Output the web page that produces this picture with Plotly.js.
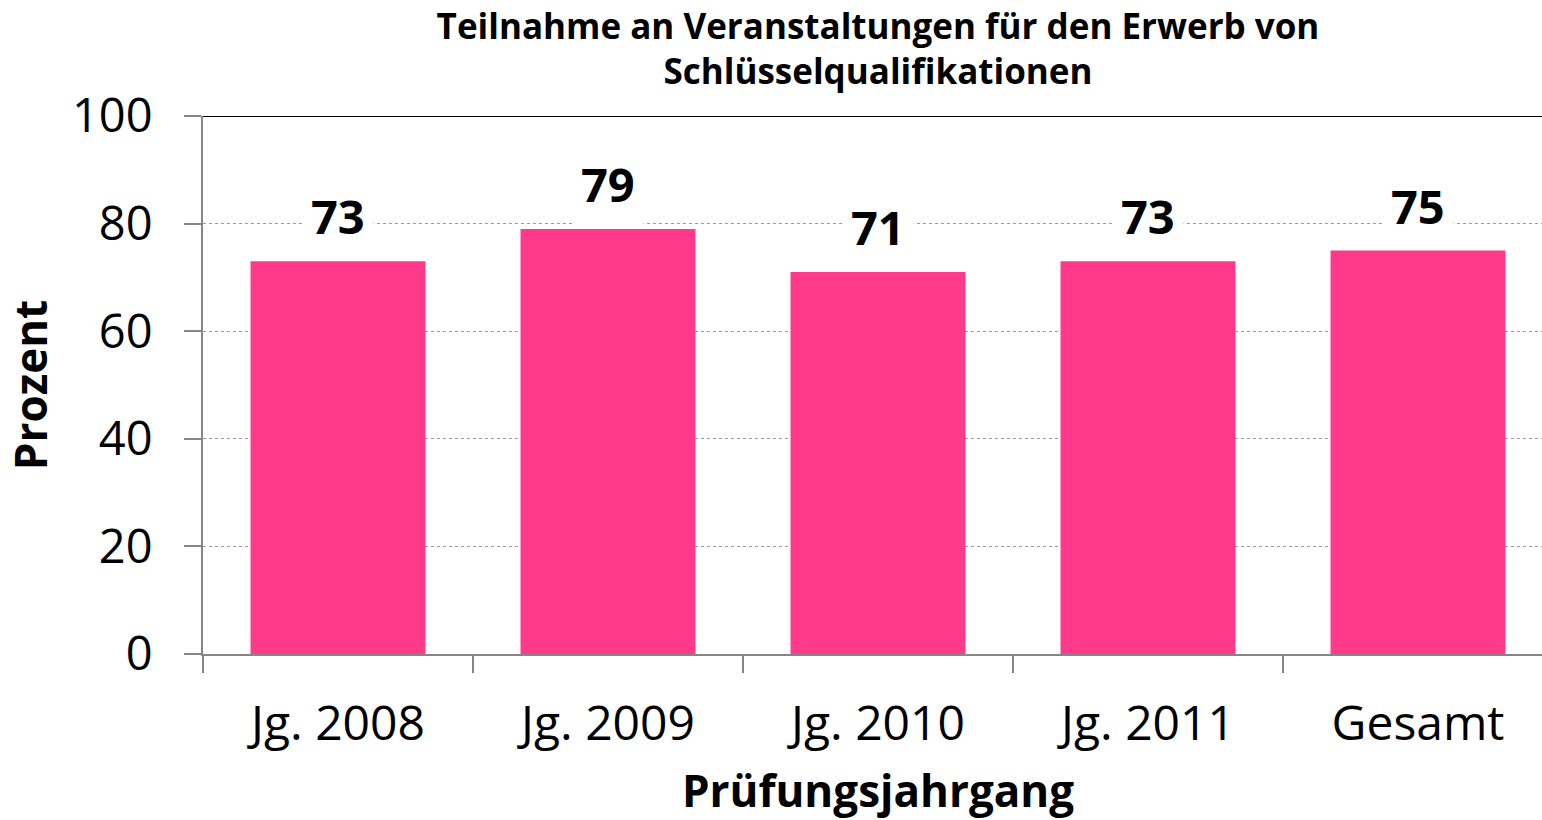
<!DOCTYPE html>
<html>
<head>
<meta charset="utf-8">
<script src="https://cdn.plot.ly/plotly-3.0.1.min.js"></script>
<style>
html, body { margin: 0; padding: 0; overflow: hidden; background: #fff; }
#chart { width: 1560px; height: 820px; }
</style>
</head>
<body>
<div id="chart"></div>
<script>
const categories = ["Jg. 2008", "Jg. 2009", "Jg. 2010", "Jg. 2011", "Gesamt"];
const values = [73, 79, 71, 73, 75];
const yTicks = [0, 20, 40, 60, 80, 100];

const FONT = "Open Sans, Noto Sans, sans-serif";
const BAR_COLOR = "#FF3A8A";

const trace = {
  type: "bar",
  x: categories,
  y: values,
  marker: { color: BAR_COLOR, line: { width: 0 } },
  hoverinfo: "x+y"
};

const annotations = categories.map((c, i) => ({
  x: c,
  y: values[i],
  xref: "x",
  yref: "y",
  text: "<b>" + values[i] + "</b>",
  showarrow: false,
  yanchor: "bottom",
  yshift: 4,
  bgcolor: "#ffffff",
  borderpad: 8,
  font: { family: FONT, size: 47, color: "#000" }
}));

const layout = {
  width: 1560,
  height: 820,
  margin: { l: 203, r: 7, t: 116, b: 166 },
  paper_bgcolor: "#fff",
  plot_bgcolor: "#fff",
  bargap: 0.352,
  showlegend: false,
  title: {
    text: "<b>Teilnahme an Veranstaltungen für den Erwerb von<br>Schlüsselqualifikationen</b>",
    font: { family: FONT, size: 35, color: "#000" },
    x: 0.5, xref: "paper", xanchor: "center",
    y: 0.953, yref: "container", yanchor: "top"
  },
  xaxis: {
    type: "category",
    tickson: "boundaries",
    ticks: "outside",
    ticklen: 17,
    tickwidth: 2,
    tickcolor: "#868686",
    showline: true,
    linecolor: "#868686",
    linewidth: 2,
    showgrid: false,
    ticklabelstandoff: 26,
    tickfont: { family: FONT, size: 48, color: "#000" },
    title: {
      text: "<b>Prüfungsjahrgang</b>",
      font: { family: FONT, size: 44, color: "#000" },
      standoff: 30
    }
  },
  yaxis: {
    range: [0, 100],
    tickvals: yTicks,
    ticktext: yTicks.map(String),
    ticks: "outside",
    ticklen: 17,
    tickwidth: 2,
    tickcolor: "#868686",
    showline: true,
    linecolor: "#868686",
    linewidth: 2,
    showgrid: true,
    gridcolor: "#9a9a9a",
    gridwidth: 1,
    griddash: "dot",
    zeroline: false,
    ticklabelstandoff: 22,
    tickfont: { family: FONT, size: 47, color: "#000" },
    title: {
      text: "<b>Prozent</b>",
      font: { family: FONT, size: 44, color: "#000" },
      standoff: 14
    }
  },
  shapes: [{
    type: "line",
    xref: "paper", yref: "y",
    x0: 0, x1: 1, y0: 100, y1: 100,
    line: { color: "#000", width: 2 }
  }],
  annotations: annotations
};

Plotly.newPlot("chart", [trace], layout, { displayModeBar: false, staticPlot: true });
</script>
</body>
</html>
